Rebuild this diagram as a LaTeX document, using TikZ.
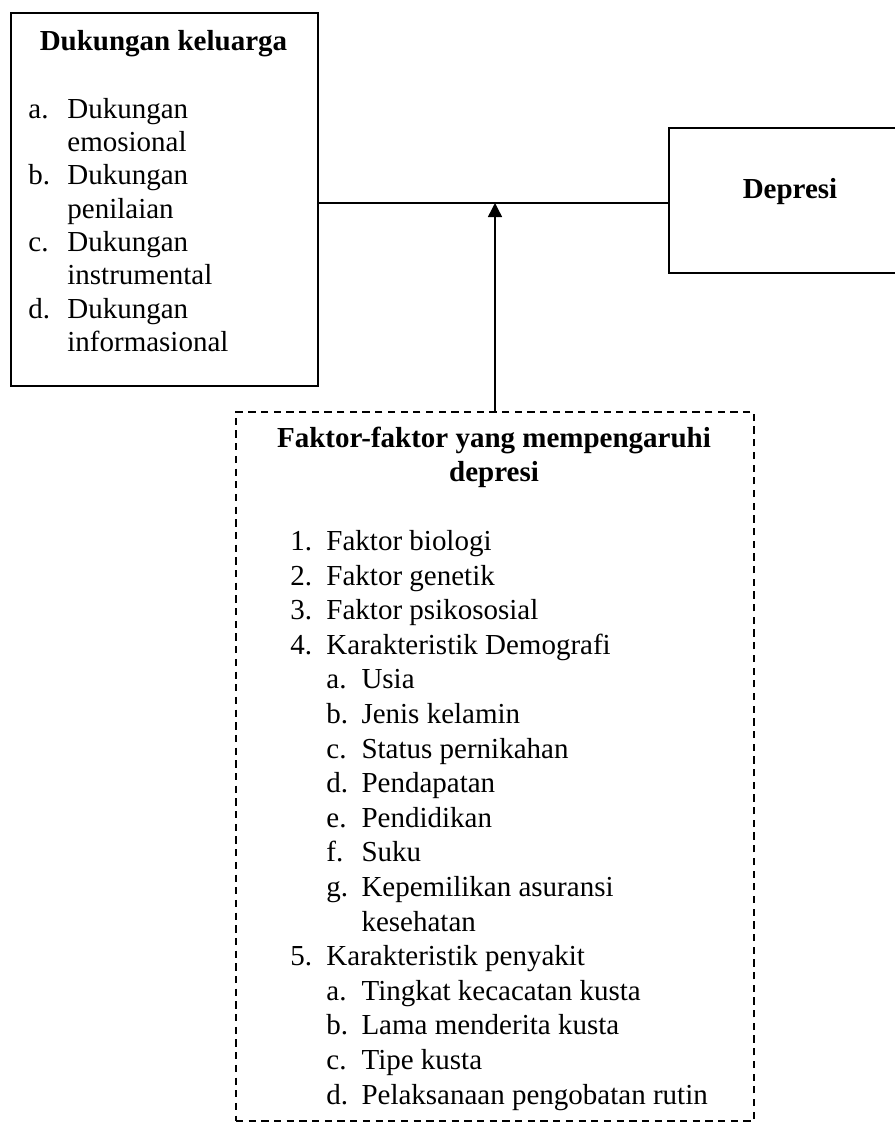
\documentclass[tikz,border=0pt]{standalone}
\usepackage{fontspec}
\setmainfont{Liberation Serif}
\usetikzlibrary{positioning,arrows.meta}

\newcommand{\nitem}[2]{\makebox[14.9pt][l]{#1}#2}
\newcommand{\sitem}[2]{\hspace*{14.9pt}\makebox[14.5pt][l]{#1}#2}
\newcommand{\litem}[2]{\makebox[16.1pt][l]{#1}#2}

\begin{document}
\begin{tikzpicture}[x=0.4138pt, y=-0.4138pt,
        box/.style={draw=black, line width=0.8pt, anchor=north west, inner sep=0pt},
        dashbox/.style={box, dash pattern=on 3pt off 2.25pt},
        link/.style={draw=black, line width=0.6pt},
        txt/.style={anchor=base west, inner sep=0pt, font=\fontsize{12}{13.82}\selectfont},
        widetxt/.style={txt, font=\fontsize{12}{14.32}\selectfont},
        ttl/.style={anchor=base, inner sep=0pt, font=\fontsize{12}{14.32}\selectfont\bfseries}]
        \useasboundingbox (0,0) rectangle (895,1124);
        \clip (0,0) rectangle (895,1124);
        % boxes
        \node[box, minimum width=127.04pt, minimum height=154.35pt] (keluarga) at (10,12) {};
        \node[box, minimum width=100.14pt, minimum height=60pt] (depresi) at (668,127) {};
        \node[dashbox, minimum width=214.35pt, minimum height=293.4pt] (faktor) at (235,411) {};
        % texts
        \node[ttl] (keluargattl) at (163.5,50) {Dukungan keluarga};
        \node[txt] (keluargalist) at (28,118) {\begin{tabular}[t]{@{}l@{}}
                \litem{a.}{Dukungan}\\ \litem{}{emosional}\\
                \litem{b.}{Dukungan}\\ \litem{}{penilaian}\\
                \litem{c.}{Dukungan}\\ \litem{}{instrumental}\\
                \litem{d.}{Dukungan}\\ \litem{}{informasional}
            \end{tabular}};
        \node[ttl] (depresittl) at (790,198) {Depresi};
        \node[ttl] (faktorttl) at (494,447) {\begin{tabular}[t]{@{}c@{}}
                Faktor-faktor yang mempengaruhi\\ depresi
            \end{tabular}};
        \node[widetxt] (faktorlist) at (290,550.4) {\begin{tabular}[t]{@{}l@{}}
                \nitem{1.}{Faktor biologi}\\
                \nitem{2.}{Faktor genetik}\\
                \nitem{3.}{Faktor psikososial}\\
                \nitem{4.}{Karakteristik Demografi}\\
                \sitem{a.}{Usia}\\
                \sitem{b.}{Jenis kelamin}\\
                \sitem{c.}{Status pernikahan}\\
                \sitem{d.}{Pendapatan}\\
                \sitem{e.}{Pendidikan}\\
                \sitem{f.}{Suku}\\
                \sitem{g.}{Kepemilikan asuransi}\\
                \sitem{}{kesehatan}\\
                \nitem{5.}{Karakteristik penyakit}\\
                \sitem{a.}{Tingkat kecacatan kusta}\\
                \sitem{b.}{Lama menderita kusta}\\
                \sitem{c.}{Tipe kusta}\\
                \sitem{d.}{Pelaksanaan pengobatan rutin}
            \end{tabular}};
        % connectors
        \coordinate (junction) at (495,203);
        \draw[link] (keluarga.east |- junction) -- (depresi.west |- junction);
        \draw[link, -{Triangle[length=5.8pt, width=5.8pt]}] (faktor.north -| junction) -- (junction);
\end{tikzpicture}
\end{document}
